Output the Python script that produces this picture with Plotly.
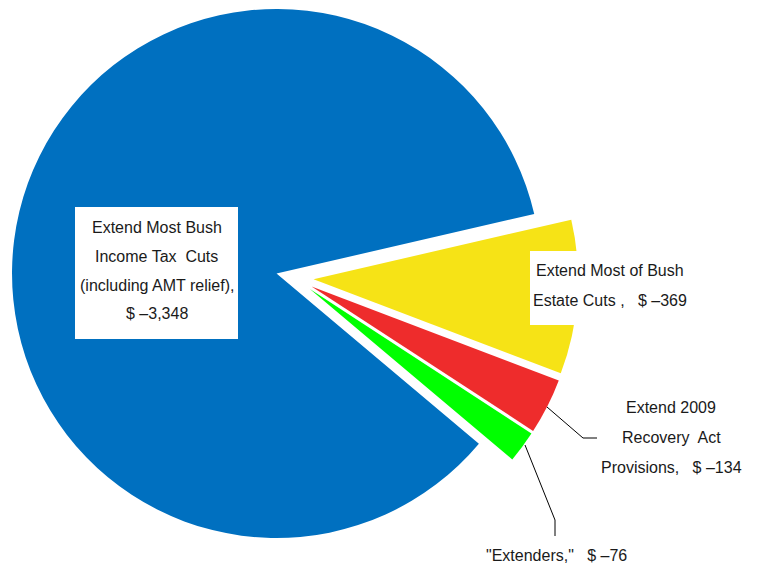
import numpy as np
import plotly.graph_objects as go

# ---------------- data ----------------
categories = [
    "Extend Most Bush Income Tax Cuts (including AMT relief)",
    "Extend Most of Bush Estate Cuts",
    "Extend 2009 Recovery Act Provisions",
    "\"Extenders\"",
]
values = [-3348, -369, -134, -76]
colors = ["#0070C0", "#F6E316", "#EE2C2C", "#00FF00"]
label_lines = [
    ["Extend Most Bush", "Income Tax&nbsp; Cuts", "(including AMT relief),"],
    ["Extend Most of Bush", "Estate Cuts ,&nbsp;"],
    ["Extend 2009", "Recovery&nbsp; Act", "Provisions,&nbsp;"],
    ["\"Extenders,\"&nbsp;"],
]
value_on_own_line = [True, False, False, False]

# ---------------- layout constants ----------------
OFF = 8                   # page body margin offset (px)
W, H = 757 - OFF, 564 - OFF
R = 264.5                 # pie radius (px)
CX, CY = 294.8, 277.9     # true pie centre (screen px, from top-left)
PULL = 18.8               # explosion distance (px)
FIRST_END = 77.0          # clockwise deg from 12 o'clock where first slice ends
FONT = "Liberation Sans, Arial, sans-serif"
TXT = "#1a1a1a"


def px(x):
    return (x - OFF) / W


def py(y):
    return 1 - (y - OFF) / H


mag = np.abs(np.array(values, dtype=float))
total = mag.sum()
rotation = FIRST_END - 360 * mag[0] / total
rotation = ((rotation + 180) % 360) - 180
cum = np.concatenate([[0], np.cumsum(mag)[:-1]])

fig = go.Figure()
for i in range(len(values)):
    theta = np.deg2rad(rotation + 360 * (cum[i] + mag[i] / 2) / total)
    cx = CX + PULL * np.sin(theta)
    cy = CY - PULL * np.cos(theta)
    slice_colors = [colors[j] if j == i else "rgba(0,0,0,0)" for j in range(len(values))]
    fig.add_trace(go.Pie(
        labels=categories,
        values=mag,
        sort=False,
        direction="clockwise",
        rotation=rotation,
        marker=dict(colors=slice_colors, line=dict(width=0)),
        textinfo="none",
        hoverinfo="skip",
        showlegend=False,
        domain=dict(x=[px(cx - R), px(cx + R)], y=[py(cy + R), py(cy - R)]),
    ))


def fmt(v):
    return "$ \u2013" + f"{abs(v):,}"


def build_lines(i):
    lines = list(label_lines[i])
    if value_on_own_line[i]:
        lines.append(fmt(values[i]))
    else:
        lines[-1] = lines[-1] + "&nbsp; " + fmt(values[i])
    return lines


# label placement (screen px): centre x, list of line y's
label_pos = [
    (156.5, [227, 256, 285, 313]),
    (610, [270, 300]),
    (671, [407, 437, 467]),
    (556, [555]),
]
boxes = [
    (75, 207, 238, 339),
    (530, 251, 700, 325),
    None,
    None,
]

shapes = []
for b in boxes:
    if b is not None:
        shapes.append(dict(type="rect", xref="paper", yref="paper",
                           x0=px(b[0]), x1=px(b[2]), y0=py(b[3]), y1=py(b[1]),
                           fillcolor="white", line=dict(width=0), layer="above"))

leaders = [
    [(547, 407), (583, 438), (597, 438)],
    [(525, 445), (555, 520), (555, 536)],
]
for pts in leaders:
    for (x0, y0), (x1, y1) in zip(pts[:-1], pts[1:]):
        shapes.append(dict(type="line", xref="paper", yref="paper",
                           x0=px(x0), y0=py(y0), x1=px(x1), y1=py(y1),
                           line=dict(color="black", width=1), layer="above"))

annotations = []
for i in range(len(values)):
    xc, ys = label_pos[i]
    for line, yy in zip(build_lines(i), ys):
        annotations.append(dict(text=line, xref="paper", yref="paper",
                                x=px(xc), y=py(yy), xanchor="center", yanchor="middle",
                                showarrow=False, font=dict(family=FONT, size=16, color=TXT)))

fig.update_layout(
    width=W, height=H,
    margin=dict(l=0, r=0, t=0, b=0),
    paper_bgcolor="white",
    plot_bgcolor="white",
    shapes=shapes,
    annotations=annotations,
)

fig.write_html("out.html")
